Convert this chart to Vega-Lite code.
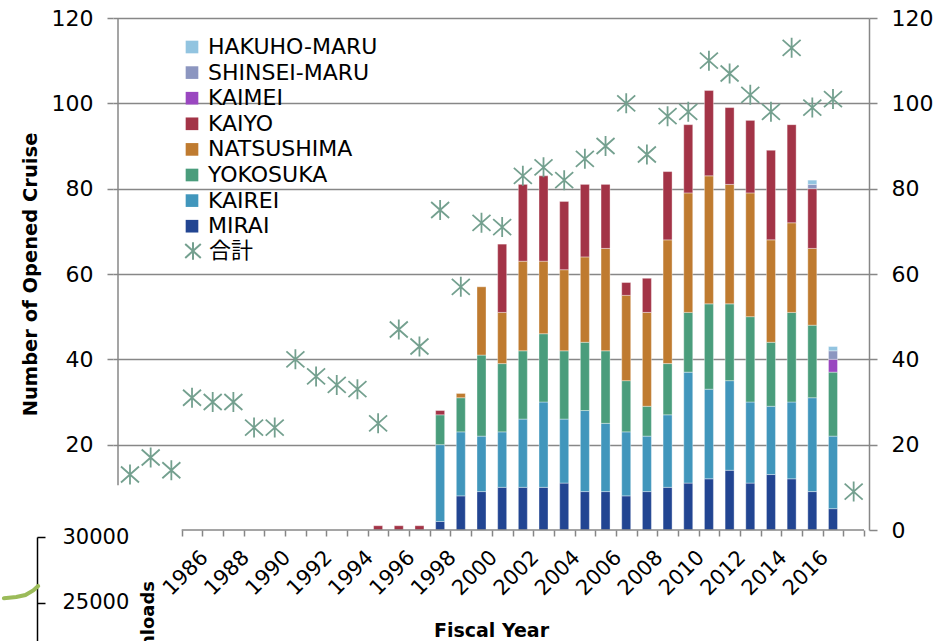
{
  "$schema": "https://vega.github.io/schema/vega-lite/v6.json",
  "width": 756,
  "height": 512,
  "autosize": {"type": "none"},
  "padding": {"left": 113, "top": 18, "right": 82, "bottom": 111},
  "config": {
    "font": "DejaVu Sans",
    "view": {"stroke": null},
    "axis": {"labelColor": "#000000", "titleColor": "#000000", "labelFont": "DejaVu Sans", "titleFont": "DejaVu Sans"},
    "legend": {"labelFont": "DejaVu Sans, Noto Sans CJK JP", "labelColor": "#000000"}
  },
  "datasets": {
    "ships": [
      {"year": 1994, "KAIYO": 1},
      {"year": 1995, "KAIYO": 1},
      {"year": 1996, "KAIYO": 1},
      {"year": 1997, "MIRAI": 2, "KAIREI": 18, "YOKOSUKA": 7, "KAIYO": 1},
      {"year": 1998, "MIRAI": 8, "KAIREI": 15, "YOKOSUKA": 8, "NATSUSHIMA": 1},
      {"year": 1999, "MIRAI": 9, "KAIREI": 13, "YOKOSUKA": 19, "NATSUSHIMA": 16},
      {"year": 2000, "MIRAI": 10, "KAIREI": 13, "YOKOSUKA": 16, "NATSUSHIMA": 12, "KAIYO": 16},
      {"year": 2001, "MIRAI": 10, "KAIREI": 16, "YOKOSUKA": 16, "NATSUSHIMA": 21, "KAIYO": 18},
      {"year": 2002, "MIRAI": 10, "KAIREI": 20, "YOKOSUKA": 16, "NATSUSHIMA": 17, "KAIYO": 20},
      {"year": 2003, "MIRAI": 11, "KAIREI": 15, "YOKOSUKA": 16, "NATSUSHIMA": 19, "KAIYO": 16},
      {"year": 2004, "MIRAI": 9, "KAIREI": 19, "YOKOSUKA": 16, "NATSUSHIMA": 20, "KAIYO": 17},
      {"year": 2005, "MIRAI": 9, "KAIREI": 16, "YOKOSUKA": 17, "NATSUSHIMA": 24, "KAIYO": 15},
      {"year": 2006, "MIRAI": 8, "KAIREI": 15, "YOKOSUKA": 12, "NATSUSHIMA": 20, "KAIYO": 3},
      {"year": 2007, "MIRAI": 9, "KAIREI": 13, "YOKOSUKA": 7, "NATSUSHIMA": 22, "KAIYO": 8},
      {"year": 2008, "MIRAI": 10, "KAIREI": 17, "YOKOSUKA": 12, "NATSUSHIMA": 29, "KAIYO": 16},
      {"year": 2009, "MIRAI": 11, "KAIREI": 26, "YOKOSUKA": 14, "NATSUSHIMA": 28, "KAIYO": 16},
      {"year": 2010, "MIRAI": 12, "KAIREI": 21, "YOKOSUKA": 20, "NATSUSHIMA": 30, "KAIYO": 20},
      {"year": 2011, "MIRAI": 14, "KAIREI": 21, "YOKOSUKA": 18, "NATSUSHIMA": 28, "KAIYO": 18},
      {"year": 2012, "MIRAI": 11, "KAIREI": 19, "YOKOSUKA": 20, "NATSUSHIMA": 29, "KAIYO": 17},
      {"year": 2013, "MIRAI": 13, "KAIREI": 16, "YOKOSUKA": 15, "NATSUSHIMA": 24, "KAIYO": 21},
      {"year": 2014, "MIRAI": 12, "KAIREI": 18, "YOKOSUKA": 21, "NATSUSHIMA": 21, "KAIYO": 23},
      {"year": 2015, "MIRAI": 9, "KAIREI": 22, "YOKOSUKA": 17, "NATSUSHIMA": 18, "KAIYO": 14, "SHINSEI-MARU": 1, "HAKUHO-MARU": 1},
      {"year": 2016, "MIRAI": 5, "KAIREI": 17, "YOKOSUKA": 15, "KAIMEI": 3, "SHINSEI-MARU": 2, "HAKUHO-MARU": 1}
    ],
    "total": [
      {"year": 1982, "total": 13}, {"year": 1983, "total": 17}, {"year": 1984, "total": 14},
      {"year": 1985, "total": 31}, {"year": 1986, "total": 30}, {"year": 1987, "total": 30},
      {"year": 1988, "total": 24}, {"year": 1989, "total": 24}, {"year": 1990, "total": 40},
      {"year": 1991, "total": 36}, {"year": 1992, "total": 34}, {"year": 1993, "total": 33},
      {"year": 1994, "total": 25}, {"year": 1995, "total": 47}, {"year": 1996, "total": 43},
      {"year": 1997, "total": 75}, {"year": 1998, "total": 57}, {"year": 1999, "total": 72},
      {"year": 2000, "total": 71}, {"year": 2001, "total": 83}, {"year": 2002, "total": 85},
      {"year": 2003, "total": 82}, {"year": 2004, "total": 87}, {"year": 2005, "total": 90},
      {"year": 2006, "total": 100}, {"year": 2007, "total": 88}, {"year": 2008, "total": 97},
      {"year": 2009, "total": 98}, {"year": 2010, "total": 110}, {"year": 2011, "total": 107},
      {"year": 2012, "total": 102}, {"year": 2013, "total": 98}, {"year": 2014, "total": 113},
      {"year": 2015, "total": 99}, {"year": 2016, "total": 101}, {"year": 2017, "total": 9}
    ],
    "downloads": [
      {"t": 1975.9, "v": 25360}, {"t": 1976.5, "v": 25450}, {"t": 1976.94, "v": 25600}, {"t": 1977.32, "v": 25950}, {"t": 1977.56, "v": 26290}
    ]
  },
  "layer": [
    {
      "data": {"name": "ships"},
      "transform": [
        {"fold": ["MIRAI", "KAIREI", "YOKOSUKA", "NATSUSHIMA", "KAIYO", "KAIMEI", "SHINSEI-MARU", "HAKUHO-MARU"], "as": ["ship", "n"]},
        {"filter": "datum.n > 0"},
        {"calculate": "indexof(['MIRAI','KAIREI','YOKOSUKA','NATSUSHIMA','KAIYO','KAIMEI','SHINSEI-MARU','HAKUHO-MARU'], datum.ship)", "as": "k"}
      ],
      "mark": {"type": "bar", "size": 9, "stroke": "#ffffff", "strokeWidth": 0.6, "strokeOpacity": 0.6},
      "encoding": {
        "x": {
          "field": "year", "type": "quantitative",
          "scale": {"domain": [1981.42, 2017.5], "nice": false, "zero": false},
          "axis": {
            "orient": "bottom",
            "values": [1984.5, 1985.5, 1986.5, 1987.5, 1988.5, 1989.5, 1990.5, 1991.5, 1992.5, 1993.5, 1994.5, 1995.5, 1996.5, 1997.5, 1998.5, 1999.5, 2000.5, 2001.5, 2002.5, 2003.5, 2004.5, 2005.5, 2006.5, 2007.5, 2008.5, 2009.5, 2010.5, 2011.5, 2012.5, 2013.5, 2014.5, 2015.5, 2016.5, 2017.5],
            "tickCount": 60,
            "labelExpr": "((datum.value + 0.5) % 2 == 0 && datum.value < 2017) ? '' + (datum.value + 0.5) : ''",
            "labelOffset": 2,
            "labelAngle": -45,
            "labelAlign": "right",
            "labelBaseline": "middle",
            "labelPadding": 18,
            "labelFontSize": 21,
            "labelOverlap": false,
            "domain": false,
            "grid": false,
            "tickColor": "#868686",
            "tickWidth": 1.5,
            "tickSize": 6,
            "title": "Fiscal Year",
            "titleFontSize": 19,
            "titleFontWeight": "bold",
            "titleY": 100,
            "titleBaseline": "middle"
          }
        },
        "y": {
          "field": "n", "type": "quantitative", "stack": "zero",
          "scale": {"domain": [0, 120], "nice": false},
          "axis": {
            "orient": "left",
            "values": [20, 40, 60, 80, 100, 120],
            "grid": true,
            "gridColor": "#878787",
            "gridWidth": 1.6,
            "domain": false,
            "tickColor": "#878787",
            "tickWidth": 1.5,
            "tickSize": 6,
            "labelFontSize": 22,
            "labelPadding": 14,
            "title": "Number of Opened Cruise",
            "titleFontSize": 19.5,
            "titleFontWeight": "bold",
            "titleAngle": 270,
            "titleX": -83,
            "titleBaseline": "middle"
          }
        },
        "color": {
          "field": "ship", "type": "nominal",
          "scale": {
            "domain": ["HAKUHO-MARU", "SHINSEI-MARU", "KAIMEI", "KAIYO", "NATSUSHIMA", "YOKOSUKA", "KAIREI", "MIRAI"],
            "range": ["#92C4E0", "#8C96C0", "#9A47C0", "#A33447", "#BF7B30", "#4A9D7C", "#4196BC", "#224592"]
          },
          "legend": {
            "orient": "none", "legendX": 68, "legendY": 18, "title": null, "direction": "vertical",
            "symbolType": "square", "symbolSize": 160, "symbolStrokeWidth": 0,
            "labelFontSize": 22, "labelLimit": 300, "rowPadding": 3.6, "labelOffset": 5, "padding": 0
          }
        },
        "order": {"field": "k", "type": "quantitative"}
      }
    },
    {
      "data": {"name": "total"},
      "mark": {"type": "point", "filled": false, "color": "#74A08F", "strokeWidth": 1.8, "size": 400, "opacity": 1},
      "encoding": {
        "x": {"field": "year", "type": "quantitative", "scale": {"domain": [1981.42, 2017.5], "nice": false, "zero": false}},
        "y": {
          "field": "total", "type": "quantitative",
          "scale": {"domain": [0, 120], "nice": false},
          "axis": {
            "orient": "right",
            "values": [0, 20, 40, 60, 80, 100, 120],
            "grid": false,
            "domain": true,
            "domainColor": "#878787",
            "domainWidth": 1.5,
            "tickColor": "#878787",
            "tickWidth": 1.5,
            "tickSize": 8,
            "labelFontSize": 22,
            "labelPadding": 14,
            "title": null
          }
        },
        "shape": {
          "datum": "合計", "type": "nominal",
          "scale": {"range": ["M-0.9,-0.8L0.9,0.8M-0.9,0.8L0.9,-0.8M0,-1L0,1"]},
          "legend": {
            "orient": "none", "legendX": 69, "legendY": 222, "title": null,
            "symbolSize": 300, "symbolStrokeWidth": 2, "symbolStrokeColor": "#74A08F", "symbolFillColor": "transparent",
            "labelFontSize": 22, "labelOffset": 5, "padding": 0
          }
        }
      }
    },
    {
      "data": {"values": [{}]},
      "mark": {"type": "rule", "color": "#878787", "strokeWidth": 1.5},
      "encoding": {
        "x": {"datum": 1981.42, "type": "quantitative"},
        "y": {"datum": 10.5, "type": "quantitative", "scale": {"domain": [0, 120], "nice": false}, "axis": null},
        "y2": {"datum": 120}
      }
    },
    {
      "data": {"values": [{}]},
      "mark": {"type": "rule", "color": "#878787", "strokeWidth": 1.5},
      "encoding": {
        "x": {"datum": 1984.5, "type": "quantitative"},
        "x2": {"datum": 2017.5},
        "y": {"datum": 0, "type": "quantitative", "scale": {"domain": [0, 120], "nice": false}, "axis": null}
      }
    },
    {
      "data": {"name": "downloads"},
      "mark": {"type": "line", "color": "#9BBB59", "strokeWidth": 4, "strokeCap": "round"},
      "encoding": {
        "x": {"field": "t", "type": "quantitative"},
        "y": {
          "field": "v", "type": "quantitative",
          "scale": {"domain": [22121, 30000], "range": [623, 519], "nice": false, "zero": false},
          "axis": {
            "orient": "right",
            "offset": -832,
            "values": [25000, 30000],
            "format": "d",
            "grid": false,
            "domainColor": "#000000",
            "domainWidth": 1.5,
            "tickColor": "#000000",
            "tickWidth": 1.5,
            "tickSize": 8,
            "labelFontSize": 21,
            "labelPadding": 17,
            "title": "Downloads",
            "titleFontSize": 18,
            "titleFontWeight": "bold",
            "titleAngle": -90,
            "titleBaseline": "middle",
            "titleX": 111,
            "titleY": 618
          }
        }
      }
    }
  ],
  "resolve": {"scale": {"y": "independent"}, "axis": {"y": "independent"}}
}
